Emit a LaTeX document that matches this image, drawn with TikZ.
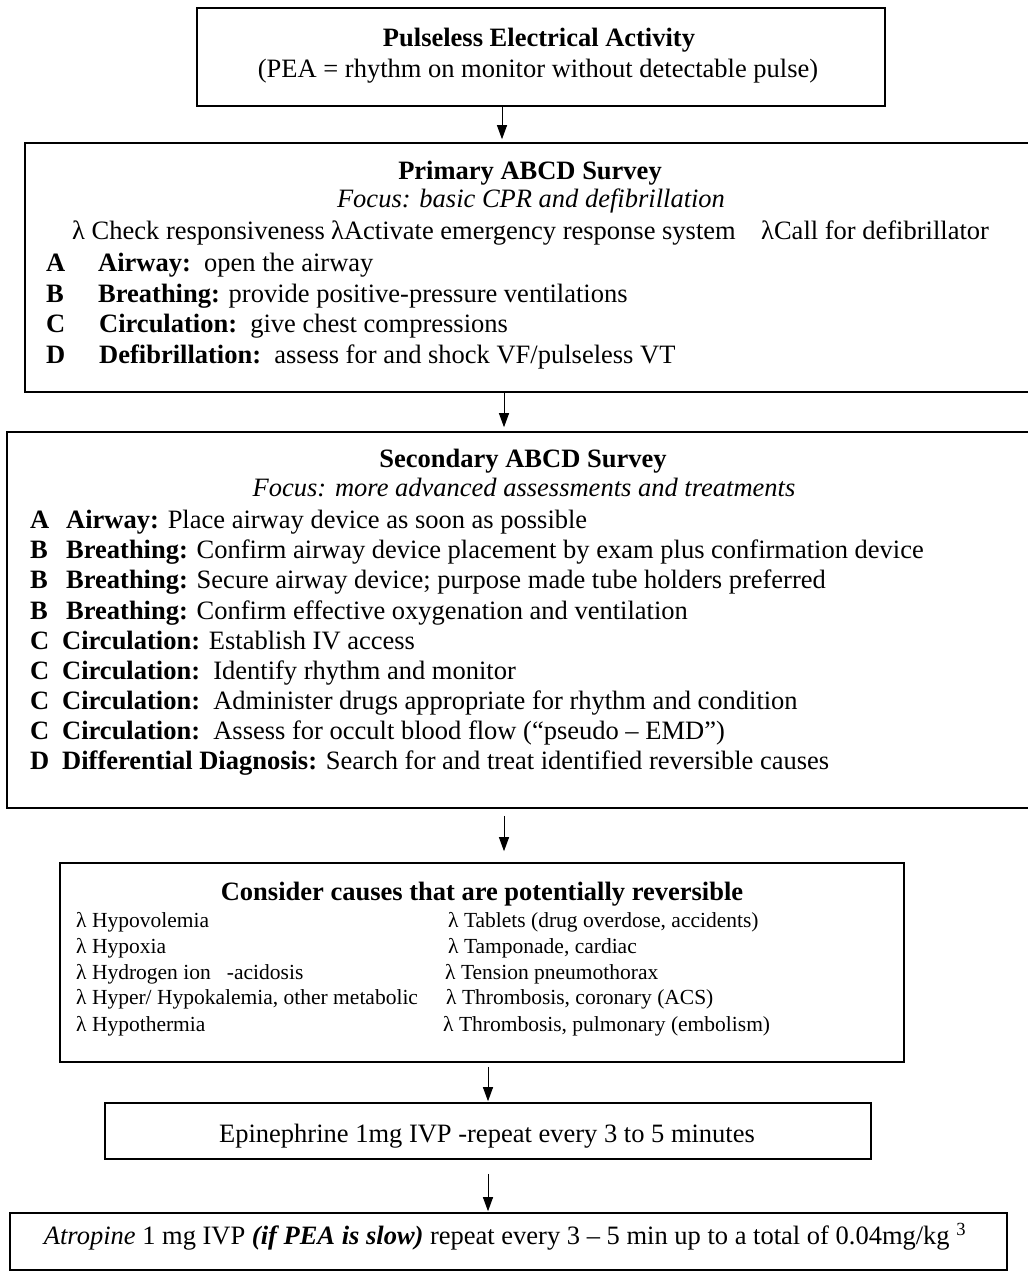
\documentclass[tikz,border=0pt]{standalone}
\usepackage{fontspec}
\setmainfont{Liberation Serif}
\usetikzlibrary{arrows.meta}
\usetikzlibrary{positioning}

\tikzset{
  box/.style={draw, line width=1.6pt, inner sep=0pt},
  flow/.style={-{Triangle[length=14pt,width=10pt]}, line width=1pt},
  txt/.style={inner sep=0pt, anchor=base west, font=\fontsize{26.5}{30}\selectfont},
  mtxt/.style={txt, anchor=base},
  ctxt/.style={inner sep=0pt, anchor=base west, font=\fontsize{21.5}{26}\selectfont},
}

\begin{document}
\begin{tikzpicture}[x=1pt, y=-1pt]

\fill[white] (0,0) rectangle (1028,1272);
\useasboundingbox (0,0) rectangle (1028,1272);

% boxes
\node[box, minimum width=688pt, minimum height=98pt] (pea) at (541,57) {};
\node[box, minimum width=1010pt, minimum height=249pt] (primary) at (530,267.5) {};
\node[box, minimum width=1032pt, minimum height=376pt] (secondary) at (523,620) {};
\node[box, minimum width=844pt, minimum height=199pt] (causes) at (482,962.5) {};
\node[box, minimum width=766pt, minimum height=56pt] (epi) at (488,1131) {};
\node[box, minimum width=997pt, minimum height=57pt] (atro) at (508.5,1241.5) {};

% arrows
\coordinate (c1) at (502,0);
\coordinate (c2) at (504,0);
\coordinate (c3) at (488,0);

\draw[flow, shorten >=3pt] (pea.south -| c1) -- (primary.north -| c1);
\draw[flow, shorten >=4pt] (primary.south -| c2) -- (secondary.north -| c2);
\draw[flow, shorten <=7pt, shorten >=11pt] (secondary.south -| c2) -- (causes.north -| c2);
\draw[flow, shorten <=4pt, shorten >=1pt] (causes.south -| c3) -- (epi.north -| c3);
\draw[flow, shorten <=14pt, shorten >=1pt] (epi.south -| c3) -- (atro.north -| c3);

% PEA
\node[mtxt] (peat) at (539,46) {\textbf{Pulseless Electrical Activity}};
\node[mtxt] (peas) at (538,77) {(PEA = rhythm on monitor without detectable pulse)};

% primary survey
\node[mtxt] (prit) at (530,179.5) {\textbf{Primary ABCD Survey}};
\node[mtxt] (pris) at (531,207.5) {\textit{Focus: basic CPR and defibrillation}};
\node[txt] (pl1) at (72,239.5) {λ Check responsiveness};
\node[txt] (pl2) at (331,239.5) {λActivate emergency response system};
\node[txt] (pl3) at (761,239.5) {λCall for defibrillator};
\node[txt] (pa) at (46,271.5) {\textbf{A}};
\node[txt] (pat) at (98,271.5) {\textbf{Airway:}\ \ open the airway};
\node[txt] (pb) at (46,302) {\textbf{B}};
\node[txt] (pbt) at (98,302) {\textbf{Breathing:} provide positive-pressure ventilations};
\node[txt] (pc) at (46,332.5) {\textbf{C}};
\node[txt] (pct) at (99,332.5) {\textbf{Circulation:}\ \ give chest compressions};
\node[txt] (pd) at (46,363) {\textbf{D}};
\node[txt] (pdt) at (99,363) {\textbf{Defibrillation:}\ \ assess for and shock VF/pulseless VT};

% secondary survey
\node[mtxt] (sect) at (523,467.5) {\textbf{Secondary ABCD Survey}};
\node[mtxt] (secs) at (524,496) {\textit{Focus: more advanced assessments and treatments}};
\node[txt] (s1) at (30,528) {\textbf{A}};
\node[txt] (s1t) at (66,528) {\textbf{Airway:} Place airway device as soon as possible};
\node[txt] (s2) at (30,558) {\textbf{B}};
\node[txt] (s2t) at (66,558) {\textbf{Breathing:} Confirm airway device placement by exam plus confirmation device};
\node[txt] (s3) at (30,588.5) {\textbf{B}};
\node[txt] (s3t) at (66,588.5) {\textbf{Breathing:} Secure airway device; purpose made tube holders preferred};
\node[txt] (s4) at (30,619) {\textbf{B}};
\node[txt] (s4t) at (66,619) {\textbf{Breathing:} Confirm effective oxygenation and ventilation};
\node[txt] (s5) at (30,649.5) {\textbf{C}};
\node[txt] (s5t) at (62,649.5) {\textbf{Circulation:} Establish IV access};
\node[txt] (s6) at (30,679.5) {\textbf{C}};
\node[txt] (s6t) at (62,679.5) {\textbf{Circulation:}\ \ Identify rhythm and monitor};
\node[txt] (s7) at (30,709.5) {\textbf{C}};
\node[txt] (s7t) at (62,709.5) {\textbf{Circulation:}\ \ Administer drugs appropriate for rhythm and condition};
\node[txt] (s8) at (30,739.5) {\textbf{C}};
\node[txt] (s8t) at (62,739.5) {\textbf{Circulation:}\ \ Assess for occult blood flow (“pseudo – EMD”)};
\node[txt] (s9) at (30,769.5) {\textbf{D}};
\node[txt] (s9t) at (62,769.5) {\textbf{Differential Diagnosis:} Search for and treat identified reversible causes};

% reversible causes
\node[mtxt] (caut) at (482,900.5) {\textbf{Consider causes that are potentially reversible}};
\node[ctxt] (h1) at (76,927) {λ Hypovolemia};
\node[ctxt] (h2) at (76,953) {λ Hypoxia};
\node[ctxt] (h3) at (76,979) {λ Hydrogen ion\ \ \ -acidosis};
\node[ctxt] (h4) at (76,1004.5) {λ Hyper/ Hypokalemia, other metabolic};
\node[ctxt] (h5) at (76,1031) {λ Hypothermia};
\node[ctxt] (t1) at (448,927) {λ Tablets (drug overdose, accidents)};
\node[ctxt] (t2) at (448,953) {λ Tamponade, cardiac};
\node[ctxt] (t3) at (445,979) {λ Tension pneumothorax};
\node[ctxt] (t4) at (446,1004.5) {λ Thrombosis, coronary (ACS)};
\node[ctxt] (t5) at (443,1031) {λ Thrombosis, pulmonary (embolism)};

% drugs
\node[mtxt] (epit) at (487,1142.5) {Epinephrine 1mg IVP -repeat every 3 to 5 minutes};
\node[mtxt] (atrot) at (505,1244.5) {\textit{Atropine} 1 mg IVP \textbf{\textit{(if PEA is slow)}} repeat every 3 – 5 min up to a total of 0.04mg/kg \textsuperscript{3}};

\end{tikzpicture}
\end{document}
